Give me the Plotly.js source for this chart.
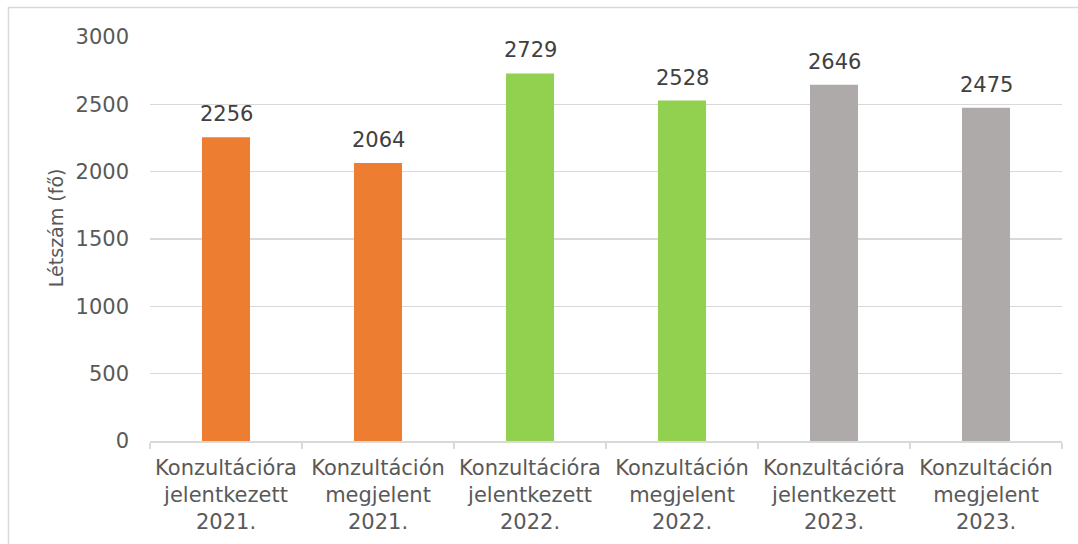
<!DOCTYPE html>
<html>
<head>
<meta charset="utf-8">
<script src="https://cdn.plot.ly/plotly-3.0.1.min.js"></script>
<style>
  html, body { margin: 0; padding: 0; background: #fff; }
  #chart { width: 1078px; height: 544px; }
</style>
</head>
<body>
<div id="chart"></div>
<script>
const categories = [
  "Konzultációra<br>jelentkezett<br>2021.",
  "Konzultáción<br>megjelent<br>2021.",
  "Konzultációra<br>jelentkezett<br>2022.",
  "Konzultáción<br>megjelent<br>2022.",
  "Konzultációra<br>jelentkezett<br>2023.",
  "Konzultáción<br>megjelent<br>2023."
];
const values = [2256, 2064, 2729, 2528, 2646, 2475];
const barColors = ["#ED7D31", "#ED7D31", "#92D050", "#92D050", "#AEAAAA", "#AEAAAA"];
const yTickVals = [0, 500, 1000, 1500, 2000, 2500, 3000];
const yTitle = "Létszám (fő)";

const FONT = "DejaVu Sans, Verdana, sans-serif";

const trace = {
  type: "bar",
  x: categories,
  y: values,
  marker: { color: barColors },
  hoverinfo: "x+y"
};

const annotations = categories.map((c, i) => ({
  x: c, y: values[i], xref: "x", yref: "y",
  text: String(values[i]),
  showarrow: false,
  yanchor: "bottom",
  yshift: 9,
  font: { family: FONT, size: 21, color: "#404040" }
}));

// y-axis title placed as a rotated annotation (centred slightly above the plot middle, as in the reference)
annotations.push({
  xref: "paper", yref: "paper",
  x: -0.103, y: 0.527,
  xanchor: "center", yanchor: "middle",
  textangle: -90,
  text: yTitle,
  showarrow: false,
  font: { family: FONT, size: 19, color: "#595959" }
});

const layout = {
  width: 1078, height: 544,
  margin: { l: 150, r: 16, t: 37, b: 103 },
  paper_bgcolor: "#ffffff",
  plot_bgcolor: "#ffffff",
  showlegend: false,
  bargap: 0.684,
  font: { family: FONT, size: 21, color: "#595959" },
  xaxis: {
    type: "category",
    showline: true, linecolor: "#D9D9D9", linewidth: 1.5,
    ticks: "outside", tickson: "boundaries", ticklen: 6, tickcolor: "#D9D9D9", tickwidth: 1.5,
    ticklabelstandoff: 7,
    showgrid: false,
    tickfont: { family: FONT, size: 21, color: "#595959" },
    fixedrange: true
  },
  yaxis: {
    range: [0, 3000],
    tickvals: yTickVals,
    showgrid: true, gridcolor: "#D9D9D9", gridwidth: 1.5,
    zeroline: false,
    showline: false,
    ticks: "",
    ticklabelstandoff: 20,
    tickfont: { family: FONT, size: 21, color: "#595959" },
    fixedrange: true
  },
  annotations: annotations,
  shapes: [{
    type: "rect", xref: "paper", yref: "paper",
    x0: -0.1552, x1: 1.03, y0: -0.3, y1: 1.073,
    line: { color: "#D9D9D9", width: 1.5 },
    fillcolor: "rgba(0,0,0,0)",
    layer: "below"
  }]
};

Plotly.newPlot("chart", [trace], layout, { displayModeBar: false, staticPlot: true });
</script>
</body>
</html>
